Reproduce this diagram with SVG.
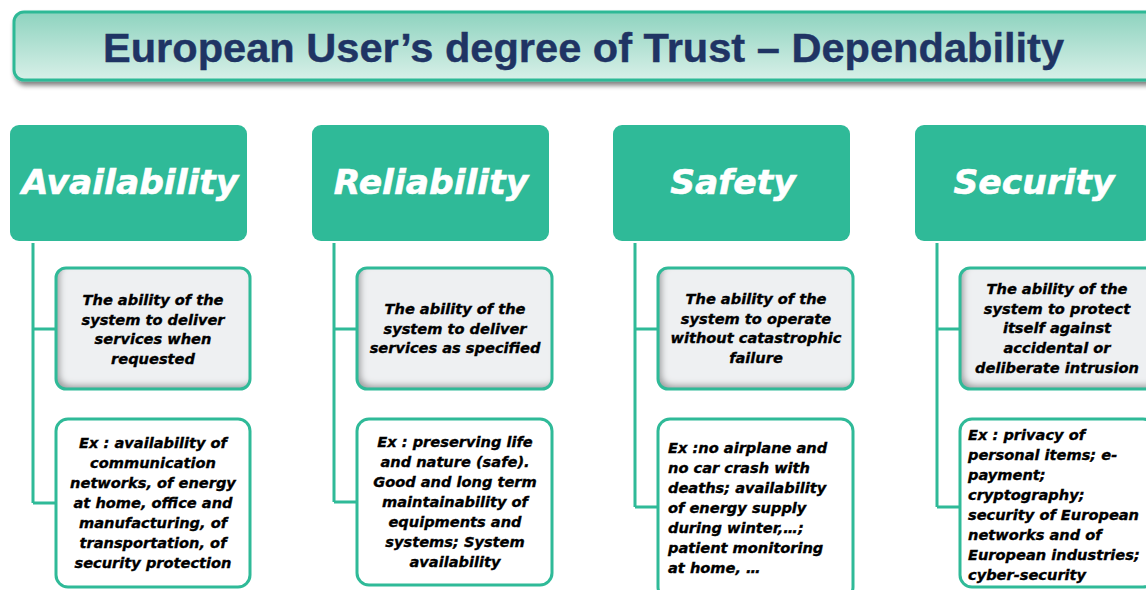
<svg xmlns="http://www.w3.org/2000/svg" width="1146" height="590" viewBox="0 0 1146 590">
<defs>
<linearGradient id="tg" x1="0" y1="0" x2="0" y2="1">
<stop offset="0" stop-color="#8ed3bf"/>
<stop offset="1" stop-color="#d8f0e8"/>
</linearGradient>
<filter id="drop" x="-5%" y="-20%" width="110%" height="150%">
<feGaussianBlur in="SourceAlpha" stdDeviation="2.5"/>
<feOffset dx="2" dy="4"/>
<feComponentTransfer><feFuncA type="linear" slope="0.5"/></feComponentTransfer>
<feMerge><feMergeNode/><feMergeNode in="SourceGraphic"/></feMerge>
</filter>
<filter id="inset" x="-15%" y="-15%" width="130%" height="130%">
<feComponentTransfer in="SourceAlpha" result="inv"><feFuncA type="table" tableValues="1 0"/></feComponentTransfer>
<feGaussianBlur in="inv" stdDeviation="3"/>
<feOffset dx="4" dy="-4" result="off"/>
<feFlood flood-color="#000" flood-opacity="0.6"/>
<feComposite operator="in" in2="off"/>
<feComposite operator="in" in2="SourceAlpha" result="sh"/>
<feMerge><feMergeNode in="SourceGraphic"/><feMergeNode in="sh"/></feMerge>
</filter>
</defs>
<style>
.hdr{fill:#2fba98;}
.htxt{fill:#ffffff;stroke:#ffffff;stroke-width:0.6;font-family:"DejaVu Sans",Verdana,sans-serif;font-weight:bold;font-style:italic;font-size:34.5px;text-anchor:middle;}
.def{fill:#eef0f2;}
.bord{fill:none;stroke:#2fba98;stroke-width:3;}
.ex{fill:#ffffff;stroke:#2fba98;stroke-width:3;}
.t{fill:#000;stroke:#000;stroke-width:0.35;font-family:"DejaVu Sans",Verdana,sans-serif;font-weight:bold;font-style:italic;font-size:14.6px;}
.c{text-anchor:middle;}
.conn{fill:none;stroke:#2fba98;stroke-width:3;}
</style>
<rect width="1146" height="590" fill="#ffffff"/>

<g id="title">
<rect x="14" y="12" width="1150" height="68" rx="10" fill="url(#tg)" stroke="#2fb996" stroke-width="3" filter="url(#drop)"/>
<text x="583.5" y="62" font-family="'Liberation Sans',Arial,sans-serif" font-weight="bold" font-size="40" fill="#1f3464" stroke="#1f3464" stroke-width="0.4" text-anchor="middle" textLength="961" lengthAdjust="spacingAndGlyphs">European User’s degree of Trust – Dependability</text>
</g>

<g id="connectors">
<path class="conn" d="M33 243 V503 M33 329 H56 M33 503 H56"/>
<path class="conn" d="M334 243 V502 M334 329 H357 M334 502 H357"/>
<path class="conn" d="M635 243 V507 M635 329 H658 M635 507 H658"/>
<path class="conn" d="M937 243 V507 M937 329 H960 M937 507 H960"/>
</g>

<g id="availability">
<rect class="hdr" x="10" y="125" width="237" height="116" rx="9"/>
<text class="htxt" x="130" y="194">Availability</text>
</g>
<g id="availability-def">
<rect class="def" x="56" y="268" width="194" height="121" rx="10" filter="url(#inset)"/>
<rect class="bord" x="56" y="268" width="194" height="121" rx="10"/>
<text class="t c" x="153" y="305">The ability of the<tspan x="153" dy="19.7">system to deliver</tspan><tspan x="153" dy="19.7">services when</tspan><tspan x="153" dy="19.7">requested</tspan></text>
</g>
<g id="availability-ex">
<rect class="ex" x="56" y="419" width="194" height="168" rx="12"/>
<text class="t c" x="153" y="448">Ex : availability of<tspan x="153" dy="20">communication</tspan><tspan x="153" dy="20">networks, of energy</tspan><tspan x="153" dy="20">at home, office and</tspan><tspan x="153" dy="20">manufacturing, of</tspan><tspan x="153" dy="20">transportation, of</tspan><tspan x="153" dy="20">security protection</tspan></text>
</g>

<g id="reliability">
<rect class="hdr" x="312" y="125" width="237" height="116" rx="9"/>
<text class="htxt" x="431" y="194">Reliability</text>
</g>
<g id="reliability-def">
<rect class="def" x="357" y="268" width="195" height="121" rx="10" filter="url(#inset)"/>
<rect class="bord" x="357" y="268" width="195" height="121" rx="10"/>
<text class="t c" x="455" y="314">The ability of the<tspan x="455" dy="19.7">system to deliver</tspan><tspan x="455" dy="19.7">services as specified</tspan></text>
</g>
<g id="reliability-ex">
<rect class="ex" x="357" y="419" width="195" height="166" rx="12"/>
<text class="t c" x="455" y="447">Ex : preserving life<tspan x="455" dy="20">and nature (safe).</tspan><tspan x="455" dy="20">Good and long term</tspan><tspan x="455" dy="20">maintainability of</tspan><tspan x="455" dy="20">equipments and</tspan><tspan x="455" dy="20">systems; System</tspan><tspan x="455" dy="20">availability</tspan></text>
</g>

<g id="safety">
<rect class="hdr" x="613" y="125" width="237" height="116" rx="9"/>
<text class="htxt" x="733" y="194">Safety</text>
</g>
<g id="safety-def">
<rect class="def" x="658" y="268" width="195" height="121" rx="10" filter="url(#inset)"/>
<rect class="bord" x="658" y="268" width="195" height="121" rx="10"/>
<text class="t c" x="756" y="304">The ability of the<tspan x="756" dy="19.7">system to operate</tspan><tspan x="756" dy="19.7">without catastrophic</tspan><tspan x="756" dy="19.7">failure</tspan></text>
</g>
<g id="safety-ex">
<rect class="ex" x="658" y="419" width="195" height="180" rx="12"/>
<text class="t" x="668" y="453">Ex :no airplane and<tspan x="668" dy="20">no car crash with</tspan><tspan x="668" dy="20">deaths; availability</tspan><tspan x="668" dy="20">of energy supply</tspan><tspan x="668" dy="20">during winter,…;</tspan><tspan x="668" dy="20">patient monitoring</tspan><tspan x="668" dy="20">at home, …</tspan></text>
</g>

<g id="security">
<rect class="hdr" x="915" y="125" width="237" height="116" rx="9"/>
<text class="htxt" x="1034" y="194">Security</text>
</g>
<g id="security-def">
<rect class="def" x="960" y="268" width="195" height="121" rx="10" filter="url(#inset)"/>
<rect class="bord" x="960" y="268" width="195" height="121" rx="10"/>
<text class="t c" x="1057" y="294">The ability of the<tspan x="1057" dy="19.7">system to protect</tspan><tspan x="1057" dy="19.7">itself against</tspan><tspan x="1057" dy="19.7">accidental or</tspan><tspan x="1057" dy="19.7">deliberate intrusion</tspan></text>
</g>
<g id="security-ex">
<rect class="ex" x="960" y="419" width="195" height="168" rx="12"/>
<text class="t" x="968" y="440">Ex : privacy of<tspan x="968" dy="20">personal items; e-</tspan><tspan x="968" dy="20">payment;</tspan><tspan x="968" dy="20">cryptography;</tspan><tspan x="968" dy="20">security of European</tspan><tspan x="968" dy="20">networks and of</tspan><tspan x="968" dy="20">European industries;</tspan><tspan x="968" dy="20">cyber-security</tspan></text>
</g>
</svg>
